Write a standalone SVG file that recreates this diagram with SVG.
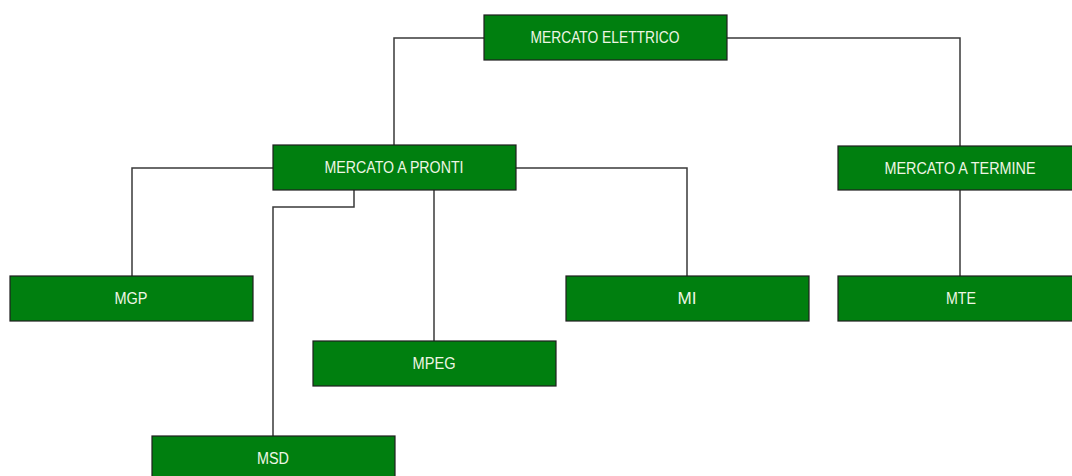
<svg xmlns="http://www.w3.org/2000/svg" width="1072" height="476" viewBox="0 0 1072 476">
<style>
.box{fill:#007f0f;stroke:#1e1e1e;stroke-width:1.2}
.lbl{font-family:"Liberation Sans",Arial,sans-serif;font-size:16px;fill:#eef6e4;text-anchor:middle}
.conn{fill:none;stroke:#3a3a3a;stroke-width:1.5}
</style>
<rect width="1072" height="476" fill="#ffffff"/>
<g id="connectors" class="conn">
<path d="M484 38 H394 V145"/>
<path d="M727 38 H960 V146"/>
<path d="M273 168 H132 V276"/>
<path d="M516 168 H687 V276"/>
<path d="M354 190 V207 H273 V436"/>
<path d="M434 190 V341"/>
<path d="M960 190 V276"/>
</g>
<g id="mercato-elettrico"><rect class="box" x="484" y="15" width="243" height="45"/><text class="lbl" x="605" y="43" textLength="149" lengthAdjust="spacingAndGlyphs">MERCATO ELETTRICO</text></g>
<g id="mercato-a-pronti"><rect class="box" x="273" y="145" width="243" height="45"/><text class="lbl" x="394" y="173" textLength="139" lengthAdjust="spacingAndGlyphs">MERCATO A PRONTI</text></g>
<g id="mercato-a-termine"><rect class="box" x="838" y="146" width="243" height="44"/><text class="lbl" x="960" y="174" textLength="151" lengthAdjust="spacingAndGlyphs">MERCATO A TERMINE</text></g>
<g id="mgp"><rect class="box" x="10" y="276" width="243" height="45"/><text class="lbl" x="131" y="304" textLength="33" lengthAdjust="spacingAndGlyphs">MGP</text></g>
<g id="mi"><rect class="box" x="566" y="276" width="243" height="45"/><text class="lbl" x="687" y="304" textLength="19" lengthAdjust="spacingAndGlyphs">MI</text></g>
<g id="mte"><rect class="box" x="838" y="276" width="243" height="45"/><text class="lbl" x="961" y="304" textLength="30" lengthAdjust="spacingAndGlyphs">MTE</text></g>
<g id="mpeg"><rect class="box" x="313" y="341" width="243" height="45"/><text class="lbl" x="434" y="369" textLength="43" lengthAdjust="spacingAndGlyphs">MPEG</text></g>
<g id="msd"><rect class="box" x="152" y="436" width="243" height="45"/><text class="lbl" x="273" y="464" textLength="32" lengthAdjust="spacingAndGlyphs">MSD</text></g>
</svg>
